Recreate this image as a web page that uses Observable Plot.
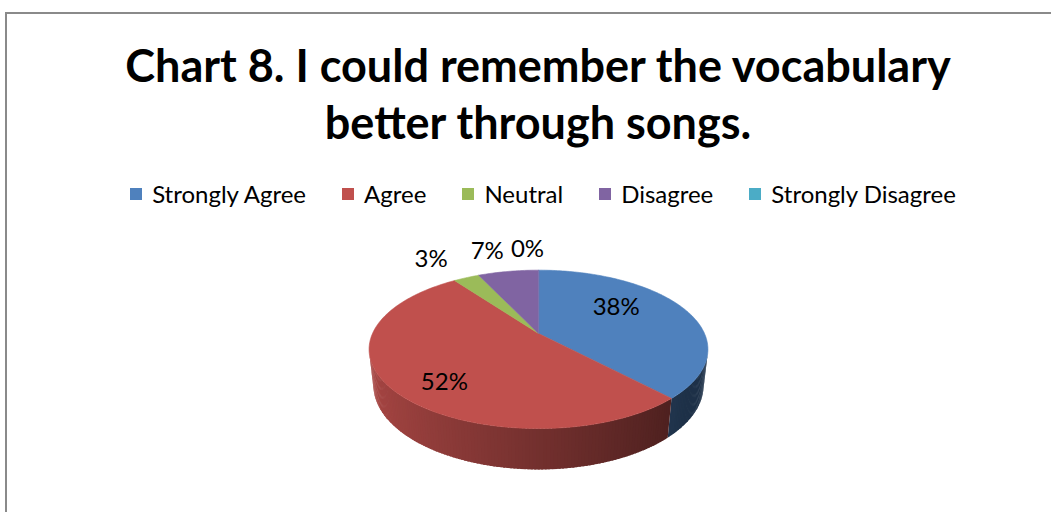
<!DOCTYPE html>
<html><head><meta charset="utf-8">
<script src="https://cdn.jsdelivr.net/npm/d3@7"></script>
<script src="https://cdn.jsdelivr.net/npm/@observablehq/plot@0.6"></script>
<style>
html,body{margin:0;padding:0;background:#fff;width:1051px;height:512px;overflow:hidden;position:relative;}
#frame{position:absolute;left:5px;top:12px;width:1100px;height:600px;border-top:2px solid #8a8a8a;border-left:2px solid #8a8a8a;}
#title{position:absolute;left:6px;width:1064px;top:37px;text-align:center;font-family:Lato,sans-serif;font-weight:700;font-size:45px;line-height:57px;color:#000;white-space:nowrap;}
#legend{position:absolute;left:11px;width:1064px;top:179px;display:flex;justify-content:center;gap:36px;font-family:Lato,sans-serif;font-size:24px;line-height:30px;color:#000;}
.item{display:flex;align-items:center;white-space:nowrap;}
.sw{width:12px;height:12px;margin-right:10px;flex:none;}
#chart{position:absolute;left:0;top:220px;}
</style></head><body>
<div id="frame"></div>
<div id="title">Chart 8. I could remember the vocabulary<br>better through songs.</div>
<div id="legend"></div>
<div id="chart"></div>
<script>
// ---- data ----
const categories = ["Strongly Agree", "Agree", "Neutral", "Disagree", "Strongly Disagree"];
const values = [38, 52, 3, 7, 0];
const labels = ["38%", "52%", "3%", "7%", "0%"];
const colors = ["#4F81BD", "#C0504D", "#9BBB59", "#8064A2", "#4BACC6"];

// ---- legend ----
const legend = d3.select("#legend");
categories.forEach((c, i) => {
  const it = legend.append("div").attr("class", "item");
  it.append("div").attr("class", "sw").style("background", colors[i]);
  it.append("span").text(c);
});

// ---- 3D perspective pie geometry ----
const W = 1051, H = 292;
const S = 166;            // pixels per pie radius
const CX = 538, CY = 113; // centre of top face inside the svg
const sinA = 0.458, cosA = 0.889, Dcam = 4.444, thick = 0.245;
function proj(u, h, v) {
  const w = v * cosA + h * sinA;
  const Y = h * cosA - v * sinA;
  const p = Dcam / (Dcam - w);
  return [u * p, -Y * p];
}
const total = d3.sum(values);
const starts = [];
let acc = 0;
values.forEach(v => { starts.push(acc / total * 2 * Math.PI); acc += v; });
const ends = values.map((v, i) => starts[i] + v / total * 2 * Math.PI);
const dir = t => [Math.sin(t), -Math.cos(t)]; // clockwise from 12 o'clock: [u, v]

// top faces
const topPts = [];
values.forEach((val, i) => {
  if (val <= 0) return;
  const [x0, y0] = proj(0, 0, 0);
  topPts.push({id: i, x: x0, y: y0, fill: colors[i]});
  const n = Math.max(2, Math.ceil((ends[i] - starts[i]) / (Math.PI / 180)));
  for (let k = 0; k <= n; k++) {
    const t = starts[i] + (ends[i] - starts[i]) * k / n;
    const [u, v] = dir(t);
    const [x, y] = proj(u, 0, v);
    topPts.push({id: i, x, y, fill: colors[i]});
  }
});

// side wall (front-facing part only), small overlapping strips for shading
const vmin = 1 / (Dcam * cosA);
const tVis0 = Math.acos(-vmin), tVis1 = 2 * Math.PI - tVis0;
const shade = u => Math.max(0.38, 0.60 - 0.28 * u);
const sidePts = [];
let qid = 0;
values.forEach((val, i) => {
  if (val <= 0) return;
  const a = Math.max(starts[i], tVis0), b = Math.min(ends[i], tVis1);
  if (b <= a) return;
  const n = Math.max(1, Math.ceil((b - a) / (Math.PI / 180)));
  const step = (b - a) / n;
  for (let k = 0; k < n; k++) {
    const t1 = a + step * k;
    const t2 = k < n - 1 ? a + step * (k + 1.6) : b;
    const [u1, v1] = dir(t1), [u2, v2] = dir(t2);
    const f = shade(Math.sin(t1 + step / 2));
    const c = d3.rgb(colors[i]);
    const fill = d3.rgb(c.r * f, c.g * f, c.b * f).formatHex();
    const id = "s" + (qid++);
    [[u1, 0, v1], [u2, 0, v2], [u2, -thick, v2], [u1, -thick, v1]].forEach(([u, h, v]) => {
      const [x, y] = proj(u, h, v);
      sidePts.push({id, x, y, fill});
    });
  }
});

// data labels
const labelPts = values.map((val, i) => {
  const t = (starts[i] + ends[i]) / 2;
  const [u, v] = dir(t);
  const inside = val / total >= 0.1;
  const r = inside ? 0.6 : 1.42;
  const [x, y] = proj(r * u, 0, r * v);
  return {x, y: inside ? y + 0.163 * v : y, text: labels[i]};
});

const chart = Plot.plot({
  width: W, height: H,
  marginTop: 0, marginRight: 0, marginBottom: 0, marginLeft: 0,
  x: {domain: [-CX / S, (W - CX) / S], range: [0, W], axis: null},
  y: {domain: [-CY / S, (H - CY) / S], range: [0, H], axis: null},
  color: {type: "identity"},
  style: {background: "transparent"},
  marks: [
    Plot.line(sidePts, {x: "x", y: "y", z: "id", fill: "fill", stroke: "none", curve: "linear-closed"}),
    Plot.line(topPts, {x: "x", y: "y", z: "id", fill: "fill", stroke: "fill", strokeWidth: 0.6, curve: "linear-closed"}),
    Plot.text(labelPts, {x: "x", y: "y", text: "text", dx: -11, fontSize: 24, fontFamily: "Lato, sans-serif", fill: "#000"})
  ]
});
document.getElementById("chart").appendChild(chart);
</script>
</body></html>
